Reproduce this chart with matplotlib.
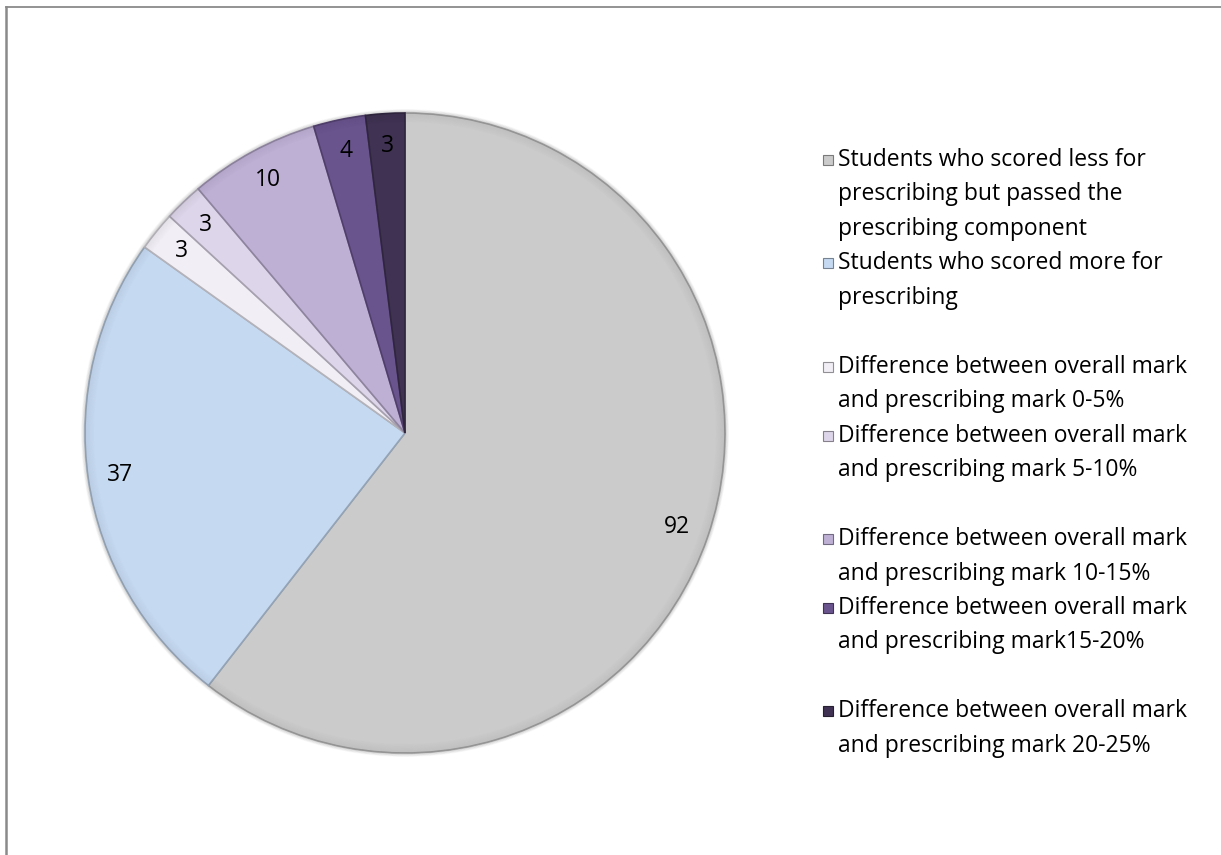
import matplotlib
matplotlib.use("Agg")
import matplotlib.pyplot as plt
from matplotlib.patches import Wedge, Rectangle
from matplotlib.lines import Line2D
import matplotlib.colors as mcolors

# Student counts per group
categories = [
    "Students who scored less for\nprescribing but passed the\nprescribing component",
    "Students who scored more for\nprescribing",
    "Difference between overall mark\nand prescribing mark 0-5%",
    "Difference between overall mark\nand prescribing mark 5-10%",
    "Difference between overall mark\nand prescribing mark 10-15%",
    "Difference between overall mark\nand prescribing mark15-20%",
    "Difference between overall mark\nand prescribing mark 20-25%",
]
values = [92, 37, 3, 3, 10, 4, 3]
colors = ["#CBCBCB", "#C5D9F1", "#F1EEF6", "#DDD5E9", "#BEB0D5", "#6A548E", "#3F3252"]

W, H = 1221, 855
fig = plt.figure(figsize=(W / 100, H / 100), dpi=100)
ax = fig.add_axes([0, 0, 1, 1])

font = ["Open Sans", "DejaVu Sans"]
fs = 16.5

cx, cy, R = 405, H - 433, 320


def darker(c, f):
    r, g, b = mcolors.to_rgb(c)
    return (r * f, g * f, b * f)


# soft shadow just outside the rim
for i in range(6):
    ax.add_patch(Wedge((cx, cy), R + 4 - i * 0.7, 0, 360, width=1.0,
                       facecolor="black", alpha=0.025 * (i + 1),
                       edgecolor="none", zorder=0))

wedges, texts = ax.pie(
    values, colors=colors, startangle=90, counterclock=False,
    center=(cx, cy), radius=R, labels=[str(v) for v in values],
    labeldistance=0.9, frame=True,
    wedgeprops=dict(linewidth=1.2, edgecolor="#8E8E8E"),
    textprops=dict(fontsize=fs, family=font, color="black"),
)
for t in texts:
    t.set_ha("center")
    t.set_va("center")
    t.set_zorder(6)

# Soft bevel: darken toward the rim of each slice
for w, c in zip(wedges, colors):
    t1, t2 = w.theta1, w.theta2
    for i in range(9):
        ax.add_patch(Wedge((cx, cy), R - i * 1.0, t1, t2, width=1.1,
                           facecolor=darker(c, 0.5), alpha=0.10 * (9 - i) / 9,
                           edgecolor="none", zorder=3))
    w.set_edgecolor(darker(c, 0.75))

ax.set_xlim(0, W)
ax.set_ylim(0, H)
ax.set_aspect("equal")
ax.axis("off")

# Legend drawn as squares plus wrapped text
legend_y = [160, 263, 367, 436, 539, 608, 711]
line_step = 34.5
for lab, c, y in zip(categories, colors, legend_y):
    ax.add_patch(Rectangle((823, H - y - 5), 10, 10, facecolor=c,
                           edgecolor=darker(c, 0.6), linewidth=0.8, zorder=5))
    for k, ln in enumerate(lab.split("\n")):
        ax.text(838, H - y - k * line_step, ln, ha="left", va="center",
                fontsize=fs, family=font, color="black")

# Chart-area border (top and left edges visible)
fig.add_artist(Line2D([6 / W, 1], [1 - 7 / H, 1 - 7 / H], color="#8A8A8A", lw=1.3))
fig.add_artist(Line2D([6 / W, 6 / W], [0, 1 - 7 / H], color="#8A8A8A", lw=1.8))

fig.savefig("out.png", dpi=100)
